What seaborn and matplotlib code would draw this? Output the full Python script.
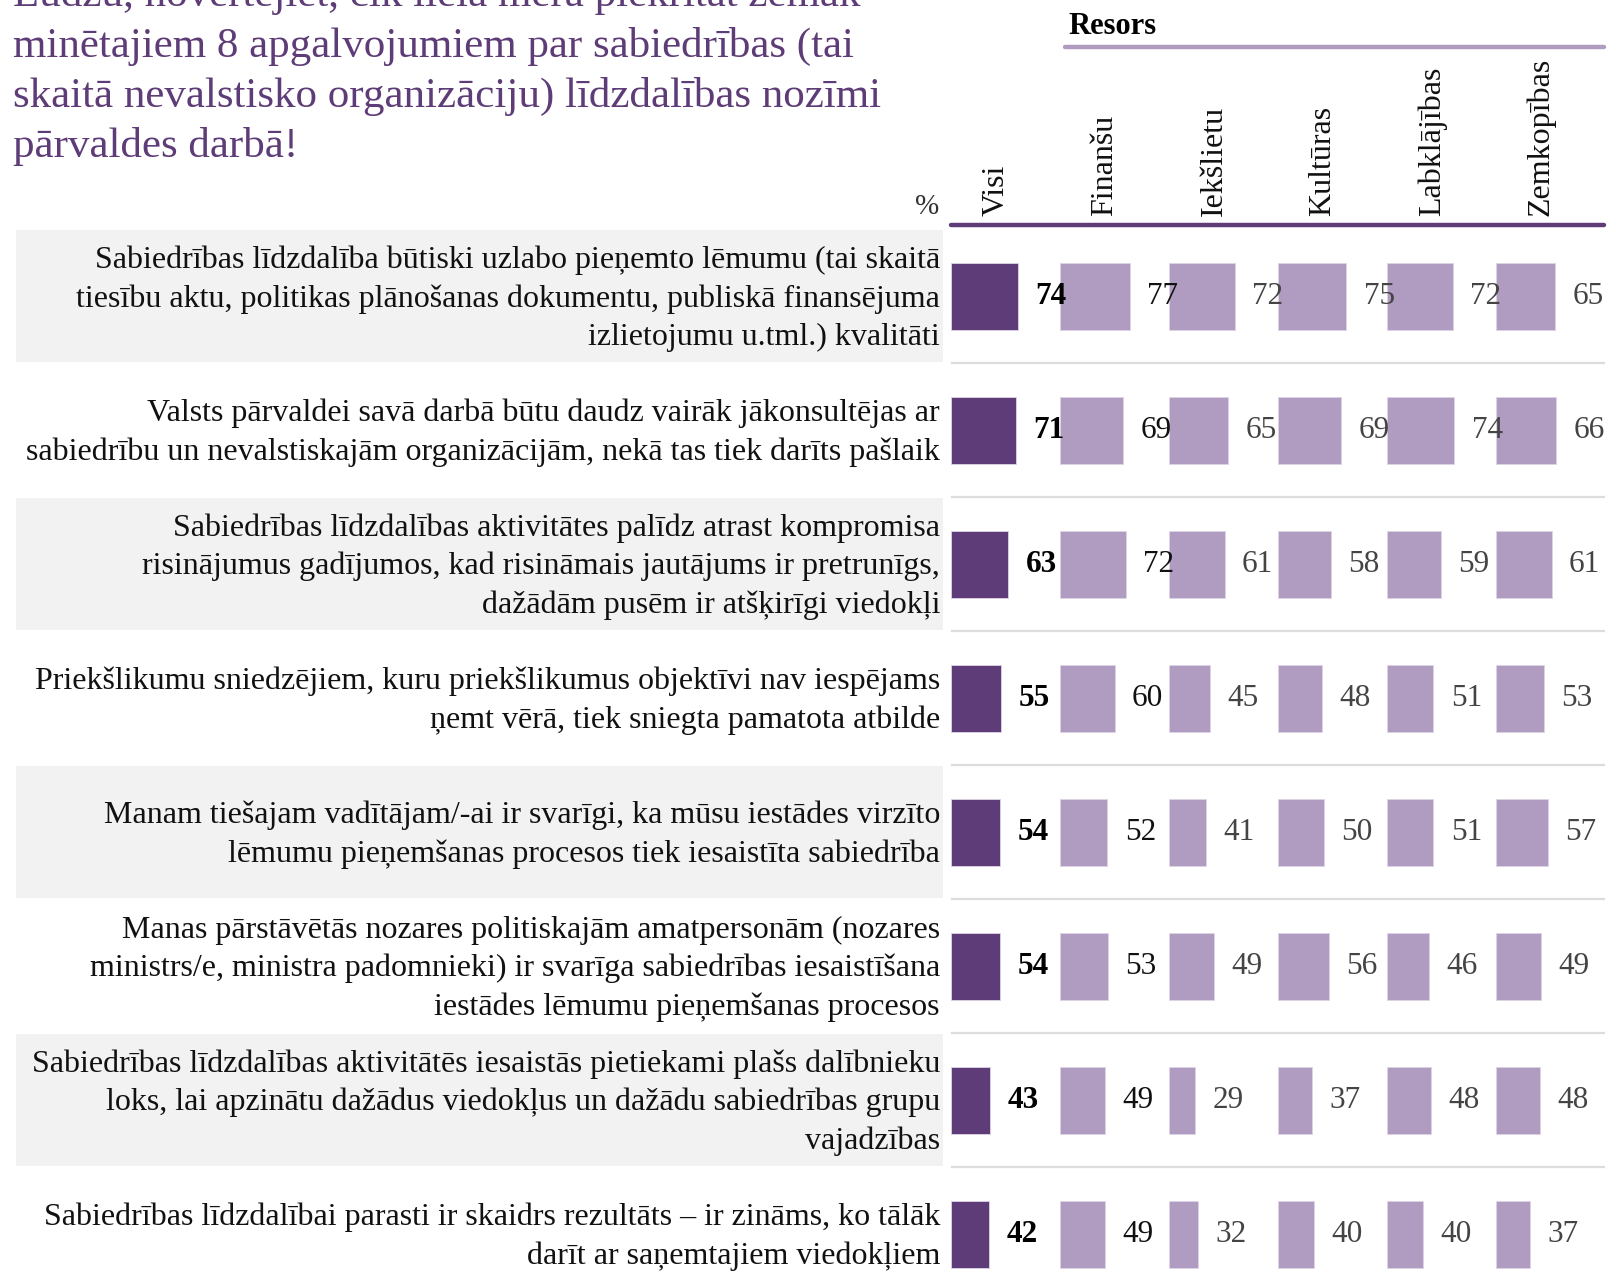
import matplotlib
matplotlib.use("Agg")
import matplotlib.pyplot as plt
from matplotlib.lines import Line2D
import seaborn as sns
import pandas as pd

# ---------------- data ----------------
title_lines = [
    "Lūdzu, novērtējiet, cik lielā mērā piekrītat zemāk",
    "minētajiem 8 apgalvojumiem par sabiedrības (tai",
    "skaitā nevalstisko organizāciju) līdzdalības nozīmi",
    "pārvaldes darbā!",
]
statements = [
    "Sabiedrības līdzdalība būtiski uzlabo pieņemto lēmumu (tai skaitā\ntiesību aktu, politikas plānošanas dokumentu, publiskā finansējuma\nizlietojumu u.tml.) kvalitāti",
    "Valsts pārvaldei savā darbā būtu daudz vairāk jākonsultējas ar\nsabiedrību un nevalstiskajām organizācijām, nekā tas tiek darīts pašlaik",
    "Sabiedrības līdzdalības aktivitātes palīdz atrast kompromisa\nrisinājumus gadījumos, kad risināmais jautājums ir pretrunīgs,\ndažādām pusēm ir atšķirīgi viedokļi",
    "Priekšlikumu sniedzējiem, kuru priekšlikumus objektīvi nav iespējams\nņemt vērā, tiek sniegta pamatota atbilde",
    "Manam tiešajam vadītājam/-ai ir svarīgi, ka mūsu iestādes virzīto\nlēmumu pieņemšanas procesos tiek iesaistīta sabiedrība",
    "Manas pārstāvētās nozares politiskajām amatpersonām (nozares\nministrs/e, ministra padomnieki) ir svarīga sabiedrības iesaistīšana\niestādes lēmumu pieņemšanas procesos",
    "Sabiedrības līdzdalības aktivitātēs iesaistās pietiekami plašs dalībnieku\nloks, lai apzinātu dažādus viedokļus un dažādu sabiedrības grupu\nvajadzības",
    "Sabiedrības līdzdalībai parasti ir skaidrs rezultāts – ir zināms, ko tālāk\ndarīt ar saņemtajiem viedokļiem",
]
columns = ["Visi", "Finanšu", "Iekšlietu", "Kultūras", "Labklājības", "Zemkopības"]
visi = [74, 71, 63, 55, 54, 54, 43, 42]
finansu = [77, 69, 72, 60, 52, 53, 49, 49]
ieksletu = [72, 65, 61, 45, 41, 49, 29, 32]
kulturas = [75, 69, 58, 48, 50, 56, 37, 40]
labklajibas = [72, 74, 59, 51, 51, 46, 48, 40]
zemkopibas = [65, 66, 61, 53, 57, 49, 48, 37]
group_label = "Resors"
unit_label = "%"

series = [visi, finansu, ieksletu, kulturas, labklajibas, zemkopibas]
df = pd.concat(
    [pd.DataFrame({"statement": statements, "column": c, "value": v})
     for c, v in zip(columns, series)],
    ignore_index=True,
)

# ---------------- style ----------------
DARK = "#5e3c77"
LIGHT = "#b09cc0"
GRAYBG = "#f2f2f2"
SEP = "#dcdcdc"
SERIF = ["Liberation Serif", "DejaVu Serif"]

sns.set_theme(style="white")
plt.rcParams["font.family"] = SERIF

W, H = 1616, 1274
fig = plt.figure(figsize=(W / 100, H / 100), dpi=100)
fig.patch.set_facecolor("white")


def fx(px):
    return px / W


def fy(py):
    return 1 - py / H


ROW_TOP = 229
ROW_H = 134
N = len(statements)
ROW_BOT = ROW_TOP + ROW_H * N
COL0 = 951
COL_W = 109
PX_PER_UNIT = 0.91
LAB_L, LAB_R = 16, 943

# title
for i, line in enumerate(title_lines):
    fig.text(fx(13), fy(6 + 50.5 * i), line, ha="left", va="baseline",
             fontsize=31, color=DARK)

# labels column with alternating background
ax_lab = fig.add_axes([fx(LAB_L), fy(ROW_BOT), (LAB_R - LAB_L) / W, ROW_H * N / H])
ax_lab.set_xlim(0, 1)
ax_lab.set_ylim(N - 0.5, -0.5)
ax_lab.set_axis_off()
for i, s in enumerate(statements):
    if i % 2 == 0:
        ax_lab.axhspan(i - 0.49, i + 0.49, color=GRAYBG, lw=0)
    ax_lab.text((940 - LAB_L) / (LAB_R - LAB_L), i + 0.02, s, ha="right", va="center",
                multialignment="right", fontsize=23, color="#111111",
                linespacing=1.4)

# column bar charts
for k, col in enumerate(columns):
    ax = fig.add_axes([fx(COL0 + COL_W * k), fy(ROW_BOT), COL_W / W, ROW_H * N / H])
    ax.set_zorder(20 - k)
    sub = df[df["column"] == col]
    sns.barplot(data=sub, x="value", y="statement", order=statements, orient="h",
                color=DARK if k == 0 else LIGHT, saturation=1, width=0.5,
                errorbar=None, ax=ax, edgecolor="#ddd3e6", linewidth=0.6)
    ax.set_xlim(0, COL_W / PX_PER_UNIT)
    ax.set_ylim(N - 0.5, -0.5)
    ax.set_axis_off()
    if k == 0:
        kw = dict(fontweight="bold", color="black")
    elif k == 1:
        kw = dict(color="#111111")
    else:
        kw = dict(color="#444444")
    ax.bar_label(ax.containers[0], fmt="%d", padding=12.5, fontsize=22.5,
                 family=SERIF, **kw)
    for i in range(N - 1):
        ax.axhline(i + 0.5, color=SEP, lw=1.6)
    # column header
    fig.text(fx(COL0 + COL_W * k + 45), fy(216), col, rotation=90,
             ha="center", va="bottom", fontsize=23, color="#111111")

# header rules
fig.add_artist(Line2D([fx(COL0), fx(1604)], [fy(225), fy(225)], lw=3.2, color=DARK))
fig.add_artist(Line2D([fx(1065), fx(1604)], [fy(47), fy(47)], lw=3.2, color=LIGHT))
fig.text(fx(1068), fy(34), group_label, ha="left", va="baseline", fontsize=22,
         fontweight="bold", color="black")
fig.text(fx(939), fy(214), unit_label, ha="right", va="baseline", fontsize=21,
         color="#333333")

fig.savefig("out.png", dpi=100)
